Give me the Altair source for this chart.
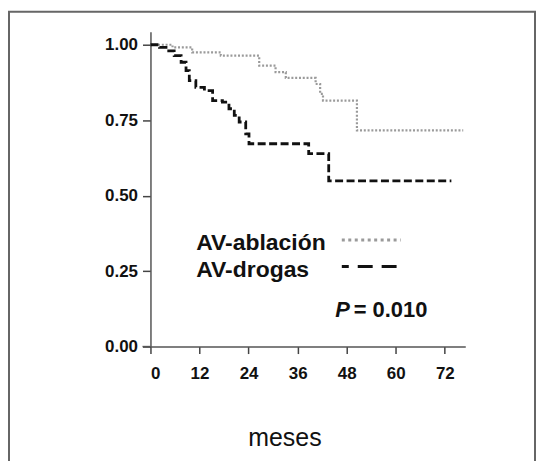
import altair as alt
import pandas as pd

# Kaplan-Meier curves (months, survival)
abl_months = [0, 5.4, 10.2, 17.2, 26.6, 30.6, 33.1, 40.4, 41.5, 42.2, 50.5, 76.5]
abl_surv = [1.0, 0.991, 0.975, 0.964, 0.931, 0.909, 0.890, 0.870, 0.837, 0.815, 0.716, 0.716]

drg_months = [0, 2.2, 3.8, 5.8, 7.5, 8.7, 9.5, 11.1, 13.2, 15.2, 17.6, 19.2,
              20.5, 21.7, 23.3, 24.1, 38.7, 43.6, 73.6]
drg_surv = [1.0, 0.991, 0.980, 0.964, 0.942, 0.914, 0.881, 0.859, 0.848, 0.815,
            0.810, 0.788, 0.766, 0.744, 0.705, 0.672, 0.639, 0.549, 0.549]

x_ticks = [0, 12, 24, 36, 48, 60, 72]
y_ticks = [0, 0.25, 0.5, 0.75, 1.0]

legend_labels = ["AV-ablación", "AV-drogas"]
legend_text_x = [11.2, 11.2]
legend_text_y = [0.320, 0.231]
legend_line_x = [46.8, 61.2]
legend_line_y = [0.353, 0.265]

p_label = ["P", "= 0.010"]
p_x = [45.2, 49.7]
p_y = [0.0967, 0.0967]

FONT = "Liberation Sans"

abl = pd.DataFrame({"month": abl_months, "surv": abl_surv})
drg = pd.DataFrame({"month": drg_months, "surv": drg_surv})

xscale = alt.Scale(domain=[0, 77], nice=False)
yscale = alt.Scale(domain=[0, 1.043], nice=False)

xenc = alt.X(
    "month:Q", scale=xscale,
    axis=alt.Axis(values=x_ticks, format="d", title="meses", grid=False,
                  titleX=134.5, titleY=99.7, titleAlign="center",
                  titleBaseline="alphabetic", titleFont=FONT, titleFontSize=25,
                  titleFontWeight="normal", titleColor="#111",
                  labelFont=FONT, labelFontSize=17, labelFontWeight="bold",
                  labelColor="#111", labelPadding=12, tickSize=7,
                  tickColor="#444", tickWidth=1.5, domainColor="#555",
                  domainWidth=1.5),
)
yenc = alt.Y(
    "surv:Q", scale=yscale,
    axis=alt.Axis(values=y_ticks, format=".2f", title=None, grid=False,
                  labelFont=FONT, labelFontSize=17, labelFontWeight="bold",
                  labelColor="#111", labelPadding=5, tickSize=8,
                  tickColor="#444", tickWidth=1.5, domainColor="#555",
                  domainWidth=1.5),
)

abl_line = alt.Chart(abl).mark_line(
    interpolate="step-after", color="#9a9a9a", strokeWidth=2.2,
    strokeDash=[2, 1.8]
).encode(x=xenc, y=yenc)

drg_line = alt.Chart(drg).mark_line(
    interpolate="step-after", color="#111", strokeWidth=2.8,
    strokeDash=[8, 3.5]
).encode(x="month:Q", y="surv:Q")

leg_txt = pd.DataFrame({"x": legend_text_x, "y": legend_text_y, "t": legend_labels})
legend_text = alt.Chart(leg_txt).mark_text(
    align="left", baseline="alphabetic", font=FONT, fontSize=23,
    fontWeight="bold", color="#111"
).encode(x="x:Q", y="y:Q", text="t:N")

leg_abl = pd.DataFrame({"x": legend_line_x, "y": [legend_line_y[0]] * 2})
leg_drg = pd.DataFrame({"x": legend_line_x, "y": [legend_line_y[1]] * 2})
legend_abl = alt.Chart(leg_abl).mark_line(
    color="#9a9a9a", strokeWidth=3, strokeDash=[3, 3.5]
).encode(x="x:Q", y="y:Q")
legend_drg = alt.Chart(leg_drg).mark_line(
    color="#111", strokeWidth=3, strokeDash=[15, 9], strokeDashOffset=8
).encode(x="x:Q", y="y:Q")

p_df_a = pd.DataFrame({"x": [p_x[0]], "y": [p_y[0]], "t": [p_label[0]]})
p_df_b = pd.DataFrame({"x": [p_x[1]], "y": [p_y[1]], "t": [p_label[1]]})
p_a = alt.Chart(p_df_a).mark_text(
    align="left", baseline="alphabetic", font=FONT, fontSize=22,
    fontWeight="bold", fontStyle="italic", color="#111"
).encode(x="x:Q", y="y:Q", text="t:N")
p_b = alt.Chart(p_df_b).mark_text(
    align="left", baseline="alphabetic", font=FONT, fontSize=22,
    fontWeight="bold", color="#111"
).encode(x="x:Q", y="y:Q", text="t:N")

stub = alt.Chart(alt.Data(values=[{}])).mark_rule(
    color="#555", strokeWidth=1.5
).encode(x=alt.value(-8), x2=alt.value(0), y=alt.value(316))

frame = alt.Chart(alt.Data(values=[{}])).mark_rect(
    fillOpacity=0, stroke="#666", strokeWidth=2
).encode(x=alt.value(-142), x2=alt.value(386), y=alt.value(-20), y2=alt.value(445))

chart = alt.layer(
    frame, abl_line, drg_line, legend_abl, legend_drg, legend_text, p_a, p_b, stub
).properties(
    width=316, height=316,
    autosize=alt.AutoSizeParams(type="none"),
    padding={"left": 143, "top": 23, "right": 72, "bottom": 114},
    background="white",
).configure_view(stroke=None)

chart.save("out.html", embed_options={"renderer": "svg", "actions": False})
